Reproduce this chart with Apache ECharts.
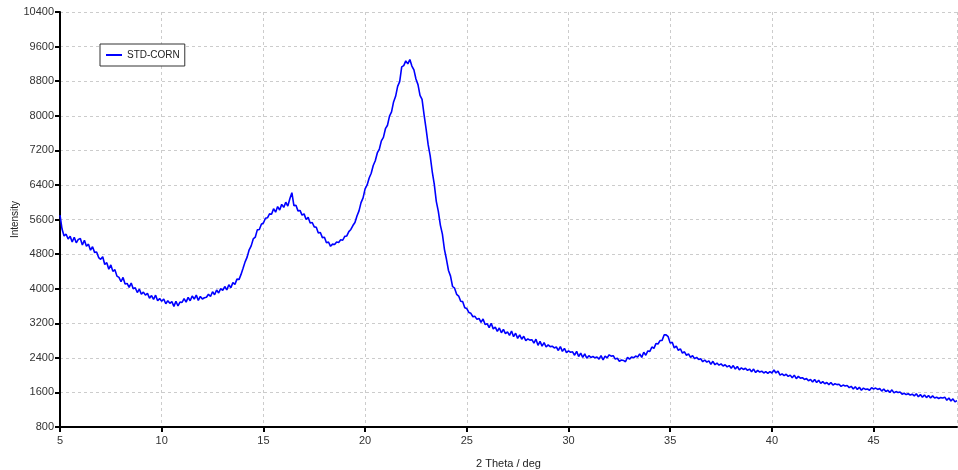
<!DOCTYPE html>
<html>
<head>
<meta charset="utf-8">
<script src="https://cdn.jsdelivr.net/npm/echarts@6/dist/echarts.min.js"></script>
<style>
  html, body { margin: 0; padding: 0; background: #fff; }
  #chart { width: 958px; height: 470px; }
</style>
</head>
<body>
<div id="chart"></div>
<script>
// scan: 2 theta from 5.0 deg, one reading every 0.1 deg
const startDeg = 5.0;
const stepDeg = 0.1;
const seriesName = 'STD-CORN';
const intensity = [
  5700, 5380, 5220, 5260, 5150, 5210, 5080, 5190, 5060, 5140,
  5160, 5010, 5120, 4980, 5030, 4890, 4970, 4840, 4850, 4720,
  4680, 4740, 4560, 4600, 4450, 4550, 4400, 4440, 4290, 4260,
  4160, 4260, 4110, 4120, 4030, 4130, 4000, 4020, 3910, 3990,
  3870, 3920, 3850, 3890, 3780, 3840, 3750, 3850, 3720, 3770,
  3710, 3760, 3650, 3720, 3660, 3700, 3590, 3710, 3600, 3690,
  3680, 3770, 3690, 3800, 3720, 3830, 3760, 3850, 3730, 3820,
  3760, 3790, 3800, 3870, 3820, 3930, 3860, 3970, 3900, 4000,
  3960, 4050, 3970, 4090, 4020, 4140, 4100, 4220, 4210, 4330,
  4470, 4620, 4730, 4900, 4990, 5150, 5190, 5360, 5370, 5490,
  5520, 5630, 5640, 5730, 5720, 5850, 5770, 5900, 5820, 5950,
  5880, 6000, 5910, 6080, 6220, 5920, 5930, 5800, 5810, 5700,
  5730, 5600, 5650, 5520, 5530, 5430, 5420, 5290, 5300, 5180,
  5190, 5060, 5080, 4980, 5030, 5020, 5080, 5070, 5130, 5120,
  5210, 5220, 5320, 5370, 5460, 5530, 5680, 5800, 5990, 6100,
  6310, 6400, 6560, 6670, 6850, 6960, 7140, 7230, 7420, 7500,
  7700, 7780, 7990, 8090, 8320, 8450, 8680, 8790, 9130, 9160,
  9270, 9200, 9300, 9150, 9060, 8850, 8720, 8470, 8380, 8020,
  7690, 7330, 7070, 6710, 6420, 6020, 5790, 5470, 5260, 4910,
  4680, 4420, 4290, 4050, 4010, 3870, 3830, 3710, 3700, 3560,
  3540, 3450, 3430, 3350, 3360, 3290, 3310, 3220, 3300, 3170,
  3190, 3100, 3200, 3070, 3110, 3010, 3090, 2980, 3060, 2960,
  3000, 2920, 3020, 2890, 2970, 2850, 2930, 2830, 2900, 2800,
  2840, 2810, 2820, 2740, 2830, 2690, 2780, 2670, 2750, 2650,
  2700, 2660, 2670, 2630, 2650, 2570, 2660, 2550, 2620, 2520,
  2560, 2530, 2540, 2460, 2550, 2430, 2510, 2410, 2490, 2390,
  2450, 2410, 2430, 2400, 2420, 2370, 2450, 2350, 2440, 2400,
  2470, 2440, 2450, 2370, 2390, 2320, 2350, 2340, 2310, 2410,
  2370, 2420, 2400, 2440, 2420, 2490, 2410, 2530, 2460, 2560,
  2550, 2650, 2620, 2730, 2720, 2800, 2800, 2930, 2930, 2890,
  2740, 2760, 2630, 2670, 2570, 2610, 2510, 2540, 2460, 2490,
  2410, 2450, 2380, 2410, 2360, 2380, 2310, 2350, 2300, 2330,
  2250, 2320, 2240, 2280, 2230, 2260, 2210, 2240, 2190, 2220,
  2160, 2220, 2140, 2200, 2120, 2170, 2130, 2160, 2110, 2140,
  2080, 2140, 2060, 2110, 2070, 2090, 2050, 2080, 2040, 2080,
  2050, 2120, 2050, 2090, 2000, 2030, 1990, 2020, 1970, 2000,
  1940, 2000, 1920, 1970, 1930, 1940, 1900, 1920, 1870, 1900,
  1840, 1900, 1830, 1880, 1810, 1850, 1800, 1830, 1780, 1830,
  1770, 1800, 1780, 1790, 1740, 1770, 1750, 1760, 1710, 1740,
  1680, 1730, 1670, 1720, 1650, 1700, 1670, 1680, 1650, 1710,
  1680, 1700, 1670, 1690, 1630, 1680, 1620, 1650, 1600, 1660,
  1590, 1620, 1600, 1610, 1560, 1580, 1550, 1570, 1540, 1560,
  1520, 1570, 1500, 1550, 1490, 1540, 1480, 1530, 1470, 1520,
  1470, 1490, 1460, 1480, 1470, 1490, 1420, 1470, 1400, 1450,
  1380, 1410
];

const points = intensity.map((v, i) => [+(startDeg + i * stepDeg).toFixed(1), v]);

const font = '"Liberation Sans", Arial, sans-serif';
let chart = echarts.init(document.getElementById('chart'));
chart.setOption({
  animation: false,
  textStyle: { fontFamily: font },
  grid: { left: 60, right: 1, top: 12, bottom: 43, outerBoundsMode: 'none', containLabel: false },
  legend: {
    left: 100,
    top: 44,
    data: [seriesName],
    backgroundColor: '#fff',
    borderColor: '#333',
    borderWidth: 1,
    borderRadius: 0,
    padding: [6, 5, 6, 6],
    icon: 'rect',
    itemWidth: 16,
    itemHeight: 2,
    itemGap: 6,
    textStyle: { fontSize: 10, color: '#222', fontFamily: font }
  },
  xAxis: {
    type: 'value',
    min: 5,
    max: 49.1,
    interval: 5,
    name: '2 Theta / deg',
    nameLocation: 'middle',
    nameGap: 31,
    nameMoveOverlap: false,
    nameTextStyle: { fontSize: 11, color: '#222' },
    axisLine: { lineStyle: { color: '#000', width: 2 } },
    axisTick: { show: true, length: 5, lineStyle: { color: '#000', width: 2 } },
    axisLabel: { fontSize: 11, color: '#333', showMaxLabel: false, margin: 8 },
    splitLine: { show: true, lineStyle: { color: '#ccc', type: [3, 3] } }
  },
  yAxis: {
    type: 'value',
    min: 800,
    max: 10400,
    interval: 800,
    name: 'Intensity',
    nameLocation: 'middle',
    nameGap: 40,
    nameMoveOverlap: false,
    nameTextStyle: { fontSize: 10, color: '#222' },
    axisLine: { show: true, lineStyle: { color: '#000', width: 2 } },
    axisTick: { show: true, length: 5, lineStyle: { color: '#000', width: 2 } },
    axisLabel: { fontSize: 11, color: '#333', margin: 6, formatter: v => String(v) },
    splitLine: { show: true, lineStyle: { color: '#ccc', type: [3, 3] } }
  },
  series: [
    {
      name: seriesName,
      type: 'line',
      data: points,
      showSymbol: false,
      symbol: 'none',
      itemStyle: { color: '#0000ff' },
      lineStyle: { color: '#0000ff', width: 1.6 }
    }
  ]
});
</script>
</body>
</html>
